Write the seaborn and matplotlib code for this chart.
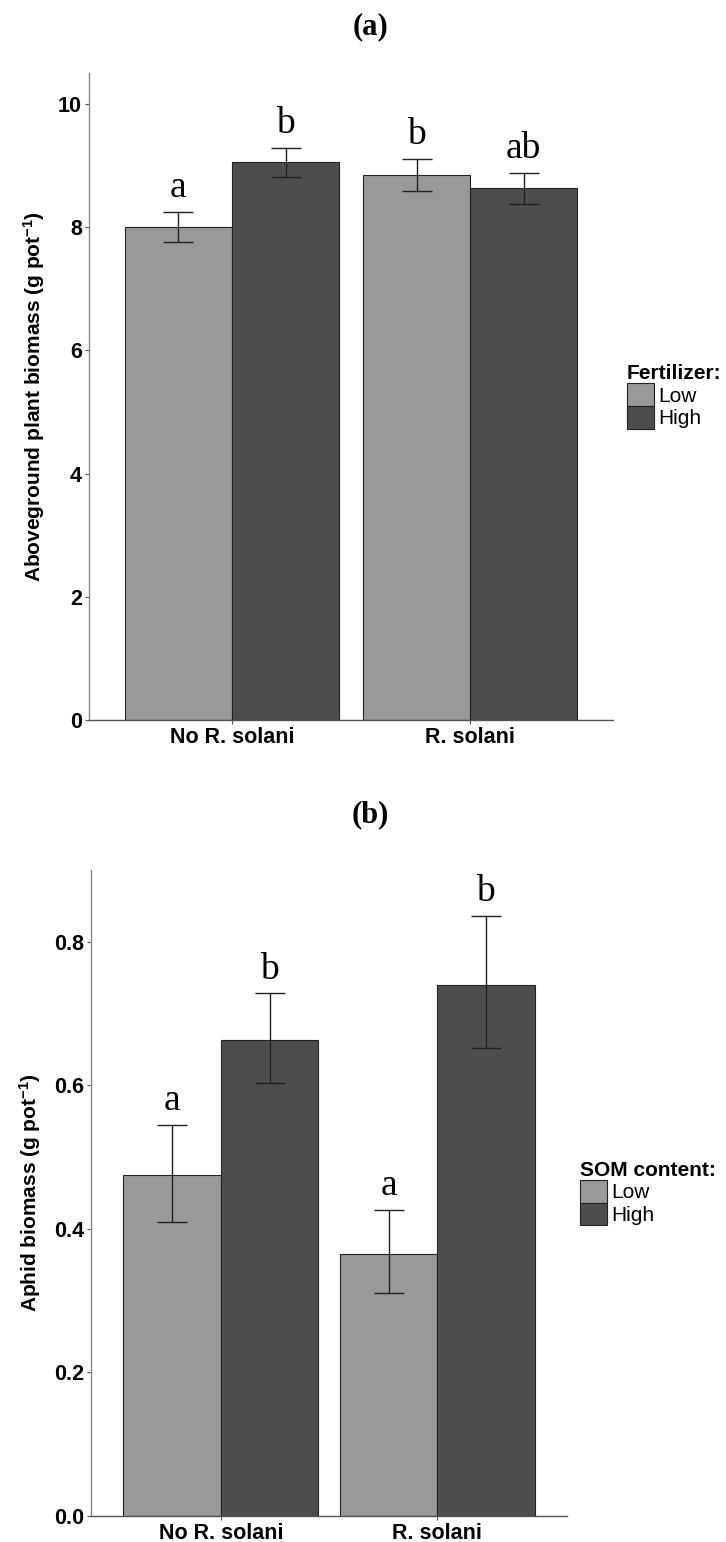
import matplotlib
matplotlib.use("Agg")
import matplotlib.pyplot as plt
import matplotlib.patches as mpatches
import seaborn as sns
import pandas as pd

categories = ["No R. solani", "R. solani"]
levels = ["Low", "High"]

# panel (a): aboveground plant biomass
a_low = [8.00, 8.85]
a_low_lo = [7.76, 8.59]
a_low_hi = [8.24, 9.11]
a_high = [9.06, 8.63]
a_high_lo = [8.81, 8.38]
a_high_hi = [9.28, 8.88]
a_letters_low = ["a", "b"]
a_letters_high = ["b", "ab"]

# panel (b): aphid biomass
b_low = [0.475, 0.365]
b_low_lo = [0.41, 0.31]
b_low_hi = [0.545, 0.427]
b_high = [0.663, 0.740]
b_high_lo = [0.603, 0.652]
b_high_hi = [0.728, 0.836]
b_letters_low = ["a", "a"]
b_letters_high = ["b", "b"]

colors = {"Low": "#999999", "High": "#4d4d4d"}

sns.set_style("white")
plt.rcParams["font.family"] = ["Liberation Sans", "DejaVu Sans"]
plt.rcParams["mathtext.default"] = "regular"
plt.rcParams["text.color"] = "black"
plt.rcParams["axes.labelcolor"] = "black"
plt.rcParams["xtick.color"] = "black"
plt.rcParams["ytick.color"] = "black"


def make_df(low, high, low_lo, low_hi, high_lo, high_hi, let_low, let_high):
    rows = []
    for i, c in enumerate(categories):
        rows.append({"cat": c, "lev": "Low", "val": low[i], "lo": low_lo[i], "hi": low_hi[i], "let": let_low[i]})
        rows.append({"cat": c, "lev": "High", "val": high[i], "lo": high_lo[i], "hi": high_hi[i], "let": let_high[i]})
    return pd.DataFrame(rows)


def draw_panel(ax, df, ylim, yticks, ylabel, legend_title, fmt):
    sns.barplot(data=df, x="cat", y="val", hue="lev", order=categories, hue_order=levels,
                palette=colors, width=0.9, errorbar=None, edgecolor="#222222", linewidth=0.8,
                ax=ax, legend=False)
    for lev, cont in zip(levels, ax.containers):
        sub = df[df["lev"] == lev].set_index("cat").loc[categories]
        for bar, (_, r) in zip(cont, sub.iterrows()):
            xc = bar.get_x() + bar.get_width() / 2
            ax.errorbar(xc, r["val"], yerr=[[r["val"] - r["lo"]], [r["hi"] - r["val"]]],
                        fmt="none", ecolor="#222222", elinewidth=1.0, capsize=11, capthick=1.0)
            ax.annotate(r["let"], (xc, r["hi"]), xytext=(0, 5), textcoords="offset points",
                        ha="center", va="bottom", fontsize=27, family="Liberation Serif",
                        color="black")
    ax.set_xlim(-0.6, 1.6)
    ax.set_ylim(*ylim)
    ax.set_yticks(yticks)
    ax.set_yticklabels([fmt.format(t) for t in yticks])
    ax.set_xlabel("")
    ax.set_ylabel(ylabel, fontsize=15, fontweight="bold", labelpad=8)
    for lab in ax.get_xticklabels() + ax.get_yticklabels():
        lab.set_fontweight("bold")
        lab.set_fontsize(15.5)
    ax.tick_params(axis="both", length=3, width=0.8, color="#555555", labelcolor="black", pad=2,
                   left=True, bottom=True)
    sns.despine(ax=ax)
    ax.spines["left"].set_color("#888888")
    ax.spines["bottom"].set_color("#555555")
    ax.spines["left"].set_linewidth(1.0)
    ax.spines["bottom"].set_linewidth(1.0)
    handles = [mpatches.Patch(facecolor=colors[l], edgecolor="#222222", linewidth=0.8, label=l) for l in levels]
    leg = ax.legend(handles=handles, title=legend_title, loc="center left", bbox_to_anchor=(1.01, 0.5),
                    frameon=False, fontsize=15, title_fontproperties={"weight": "bold", "size": 15},
                    handlelength=1.3, handleheight=1.3, labelspacing=0.0, handletextpad=0.2,
                    borderaxespad=0.0)
    leg._legend_box.align = "left"


fig = plt.figure(figsize=(7.26, 15.42), dpi=100)
ax1 = fig.add_axes([89 / 726, 1 - 720 / 1542, 524 / 726, 647 / 1542])
ax2 = fig.add_axes([91 / 726, 1 - 1516 / 1542, 476 / 726, 646 / 1542])

df_a = make_df(a_low, a_high, a_low_lo, a_low_hi, a_high_lo, a_high_hi, a_letters_low, a_letters_high)
df_b = make_df(b_low, b_high, b_low_lo, b_low_hi, b_high_lo, b_high_hi, b_letters_low, b_letters_high)

draw_panel(ax1, df_a, (0, 10.5), [0, 2, 4, 6, 8, 10], r"Aboveground plant biomass (g pot$^{-1}$)",
           "Fertilizer:", "{:g}")
draw_panel(ax2, df_b, (0, 0.9), [0.0, 0.2, 0.4, 0.6, 0.8], r"Aphid biomass (g pot$^{-1}$)",
           "SOM content:", "{:.1f}")

fig.text(0.51, 1 - 27 / 1542, "(a)", ha="center", va="center", fontsize=22, fontweight="bold",
         family="Liberation Serif")
fig.text(0.51, 1 - 815 / 1542, "(b)", ha="center", va="center", fontsize=22, fontweight="bold",
         family="Liberation Serif")

fig.savefig("out.png", dpi=100)
